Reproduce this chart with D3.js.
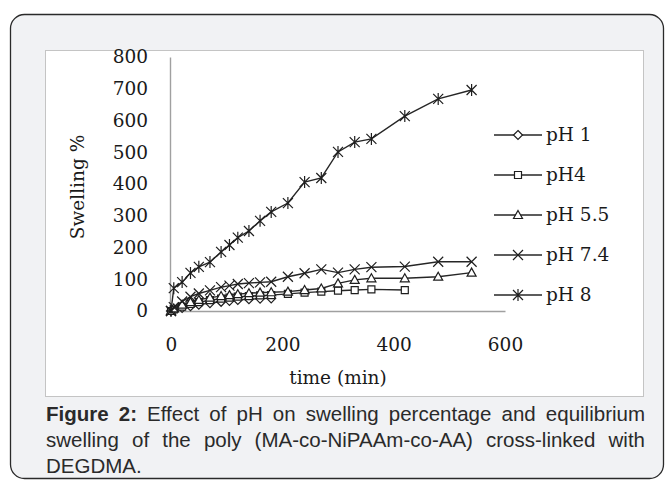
<!DOCTYPE html>
<html><head><meta charset="utf-8">
<script src="https://cdn.jsdelivr.net/npm/d3@7"></script>
<style>html,body{margin:0;padding:0;background:#fff;} svg{display:block;}</style>
</head><body><svg id="c" width="666" height="480"></svg>
<script>
// ---- data ----
const timeMin = [0, 5, 20, 35, 50, 70, 90, 105, 120, 140, 160, 180, 210, 240, 270, 300, 330, 360, 420, 480, 540];
const seriesNames = ["pH 1", "pH4", "pH 5.5", "pH 7.4", "pH 8"];
const pH1  = [0, 4, 10, 15, 20, 25, 29, 32, 35, 37, 39, 40, null, null, null, null, null, null, null, null, null];
const pH4  = [0, 5, 14, 22, 28, 34, 39, 42, 45, 47, 49, 50, 54, 58, 61, 64, 66, 68, 66, null, null];
const pH55 = [0, 8, 20, 28, 35, 42, 47, 50, 53, 56, 58, 59, 61, 66, 71, 87, 98, 103, 103, 108, 121];
const pH74 = [0, 12, 30, 45, 55, 65, 75, 80, 85, 88, 90, 92, 108, 119, 131, 121, 131, 138, 140, 155, 155];
const pH8  = [0, 72, 91, 120, 139, 154, 186, 208, 231, 252, 284, 312, 340, 406, 419, 501, 532, 542, 614, 668, 696];
const xTicks = [0, 200, 400, 600];
const yTicks = [0, 100, 200, 300, 400, 500, 600, 700, 800];
const xTitle = "time (min)";
const yTitle = "Swelling %";
const captionBold = "Figure 2:";
const captionLines = [
  "Effect of pH on swelling percentage and equilibrium",
  "swelling of the poly (MA-co-NiPAAm-co-AA) cross-linked with",
  "DEGDMA."
];

const allSeries = [pH1, pH4, pH55, pH74, pH8];
const markerTypes = ["diamond", "square", "triangle", "x", "asterisk"];

// ---- drawing ----
const svg = d3.select("#c");
const serif = "'DejaVu Serif', serif";
const fs = 18.5;

// outer frame
svg.append("rect").attr("x", 10.5).attr("y", 14.5).attr("width", 653).attr("height", 464)
  .attr("rx", 14).attr("fill", "#f1f2f4").attr("stroke", "#2a2a2a").attr("stroke-width", 1.3);
// chart box
svg.append("rect").attr("x", 45.5).attr("y", 50.5).attr("width", 598).attr("height", 346)
  .attr("fill", "#fff").attr("stroke", "#c4c4c4").attr("stroke-width", 1);

const x = d3.scaleLinear().domain([0, 600]).range([171, 505]);
const y = d3.scaleLinear().domain([0, 800]).range([311, 57]);

// axes
const gy = svg.append("g").attr("transform", "translate(170,0)")
  .call(d3.axisLeft(y).tickValues(yTicks).tickSize(0).tickPadding(22));
const gx = svg.append("g").attr("transform", "translate(0,311)")
  .call(d3.axisBottom(x).tickValues(xTicks).tickSize(0).tickPadding(27));
[gx, gy].forEach(g => {
  g.select(".domain").attr("stroke", "#a0a0a0").attr("stroke-width", 1.4);
  g.selectAll("text").attr("font-family", serif).attr("font-size", fs).attr("fill", "#1a1a1a");
});

svg.append("text").attr("x", 338).attr("y", 384).attr("text-anchor", "middle")
  .attr("font-family", serif).attr("font-size", fs).attr("fill", "#1a1a1a").text(xTitle);
svg.append("text").attr("transform", "translate(84,187) rotate(-90)").attr("text-anchor", "middle")
  .attr("font-family", serif).attr("font-size", fs).attr("fill", "#1a1a1a").text(yTitle);

function markerPath(type) {
  switch (type) {
    case "diamond": return "M0,-4.5L4.5,0L0,4.5L-4.5,0Z";
    case "square": return "M-3.5,-3.5H3.5V3.5H-3.5Z";
    case "triangle": return "M0,-4.5L4.5,3.5H-4.5Z";
    case "x": return "M-5,-5L5,5M-5,5L5,-5";
    case "asterisk": return "M-5,-5L5,5M-5,5L5,-5M0,-6V6";
  }
}
function drawMarker(g, type, cx, cy) {
  const open = (type === "x" || type === "asterisk");
  g.append("path").attr("transform", `translate(${cx},${cy})`).attr("d", markerPath(type))
    .attr("fill", open ? "none" : "#fff").attr("stroke", "#1e1e1e").attr("stroke-width", 1.2);
}

const line = d3.line().defined(d => d[1] != null).x(d => x(d[0])).y(d => y(d[1]));
allSeries.forEach((vals, i) => {
  const pts = timeMin.map((t, j) => [t, vals[j]]);
  const g = svg.append("g");
  g.append("path").attr("d", line(pts)).attr("fill", "none").attr("stroke", "#262626").attr("stroke-width", 1.4);
  pts.filter(p => p[1] != null).forEach(p => drawMarker(g, markerTypes[i], x(p[0]), y(p[1])));
});

// legend
const legendY = d3.scalePoint().domain(seriesNames).range([135, 295]);
seriesNames.forEach((name, i) => {
  const ly = legendY(name);
  const g = svg.append("g");
  g.append("line").attr("x1", 494).attr("x2", 542).attr("y1", ly).attr("y2", ly).attr("stroke", "#262626").attr("stroke-width", 1.4);
  drawMarker(g, markerTypes[i], 518, ly);
  g.append("text").attr("x", 546).attr("y", ly + 6).attr("font-family", serif).attr("font-size", fs)
    .attr("fill", "#1a1a1a").text(name);
});

// caption (justified, slightly condensed)
const capFont = "'Liberation Sans', Arial, sans-serif";
const capSize = 20.5;
const capX = 46, capW = 599;
const capY = [421, 447, 473];
function measure(word, bold) {
  const t = svg.append("text").attr("font-family", capFont).attr("font-size", capSize)
    .attr("font-weight", bold ? "bold" : "normal").text(word);
  const w = t.node().getComputedTextLength(); t.remove(); return w;
}
const spaceW = measure("a b", false) - measure("ab", false);
const lineWords = captionLines.map((ln, li) => {
  let words = ln.split(" ").map(w => ({ w, bold: false }));
  if (li === 0) words = captionBold.split(" ").map(w => ({ w, bold: true })).concat(words);
  words.forEach(d => d.width = measure(d.w, d.bold));
  return words;
});
const natural = lineWords.slice(0, 2).map(ws => d3.sum(ws, d => d.width) + spaceW * 1.0 * (ws.length - 1));
const sx = Math.min(1, capW / d3.max(natural));
lineWords.forEach((words, li) => {
  const g = svg.append("g").attr("transform", `translate(${capX},${capY[li]}) scale(${sx},1)`);
  const total = d3.sum(words, d => d.width);
  const last = li === captionLines.length - 1;
  const gap = last ? spaceW : (capW / sx - total) / (words.length - 1);
  let cx = 0;
  words.forEach(d => {
    g.append("text").attr("x", cx).attr("y", 0).attr("font-family", capFont)
      .attr("font-size", capSize).attr("font-weight", d.bold ? "bold" : "normal")
      .attr("fill", "#2a2a2a").text(d.w);
    cx += d.width + gap;
  });
});
</script></body></html>
